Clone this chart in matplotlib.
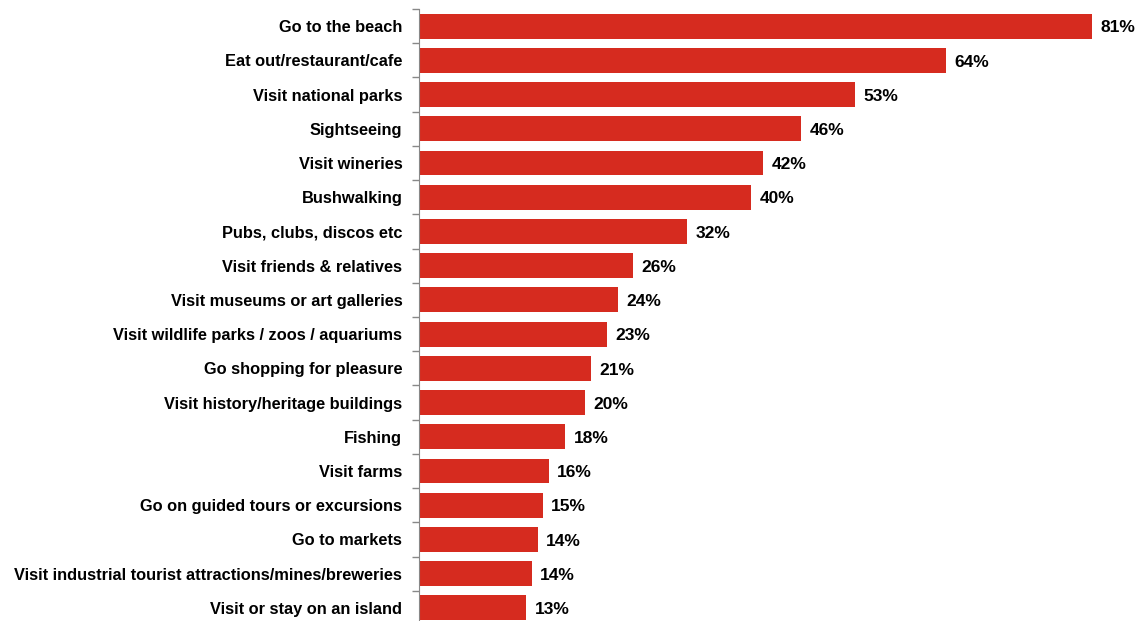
import matplotlib.pyplot as plt
import numpy as np

# Activities, top to bottom
activities = [
    "Go to the beach",
    "Eat out/restaurant/cafe",
    "Visit national parks",
    "Sightseeing",
    "Visit wineries",
    "Bushwalking",
    "Pubs, clubs, discos etc",
    "Visit friends & relatives",
    "Visit museums or art galleries",
    "Visit wildlife parks / zoos / aquariums",
    "Go shopping for pleasure",
    "Visit history/heritage buildings",
    "Fishing",
    "Visit farms",
    "Go on guided tours or excursions",
    "Go to markets",
    "Visit industrial tourist attractions/mines/breweries",
    "Visit or stay on an island",
]
# bar lengths as drawn (%)
shares = [81, 63.4, 52.5, 46, 41.4, 40, 32.3, 25.8, 23.9, 22.6,
          20.7, 20.0, 17.6, 15.6, 14.9, 14.3, 13.6, 12.9]
# printed labels
share_labels = ["81%", "64%", "53%", "46%", "42%", "40%", "32%", "26%", "24%",
                "23%", "21%", "20%", "18%", "16%", "15%", "14%", "14%", "13%"]

plt.rcParams['font.family'] = ['Liberation Sans', 'DejaVu Sans']

fig = plt.figure(figsize=(11.41, 6.21), dpi=100)
ax = fig.add_axes([419 / 1141, -4 / 621, 723 / 1141, 616 / 621])

y = np.arange(len(activities))
ax.barh(y, shares, height=0.73, color='#D62B1F', edgecolor='none')

for yi, v, lab in zip(y, shares, share_labels):
    ax.text(v + 1.0, yi + 0.05, lab, va='center', ha='left',
            fontsize=12.5, fontweight='bold', color='black')

ax.set_xlim(0, 87)
ax.set_ylim(len(activities) - 0.5, -0.5)
ax.set_yticks(y)
ax.set_yticklabels(activities, fontsize=11.8, fontweight='bold')
ax.tick_params(axis='y', which='major', length=0, pad=12)
ax.set_yticks(np.arange(-0.5, len(activities)), minor=True)
ax.tick_params(axis='y', which='minor', length=5, color='#888888', width=1)

ax.set_xticks([])
for s in ['top', 'right', 'bottom']:
    ax.spines[s].set_visible(False)
ax.spines['left'].set_color('#888888')

fig.savefig('out.png', dpi=100)
